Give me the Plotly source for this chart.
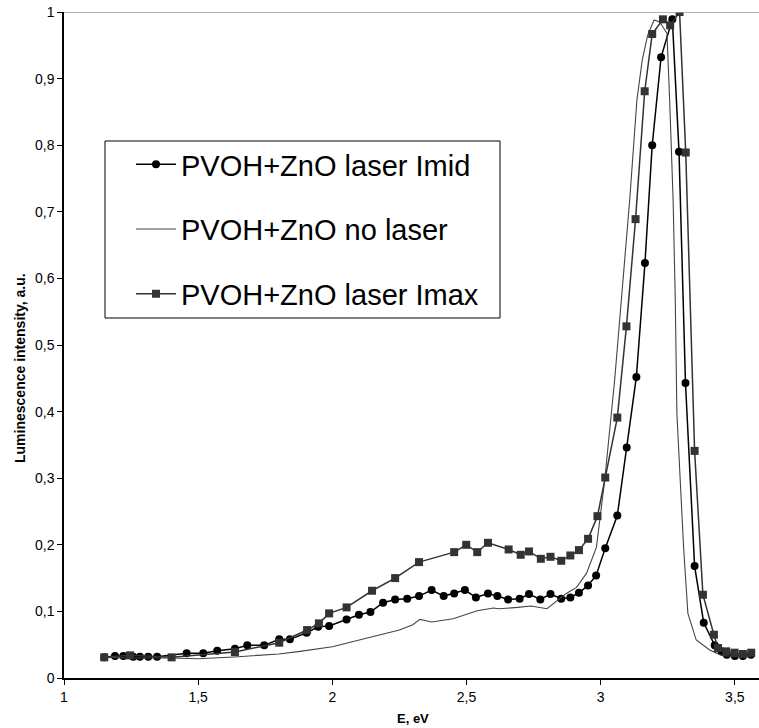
import plotly.graph_objects as go

# ---- data ----
imid_x = [1.150, 1.190, 1.221, 1.258, 1.283, 1.314, 1.347, 1.457, 1.519, 1.571, 1.637, 1.683,
          1.746, 1.802, 1.842, 1.904, 1.947, 1.988, 2.053, 2.099, 2.142, 2.189, 2.234, 2.279,
          2.323, 2.370, 2.415, 2.454, 2.494, 2.535, 2.580, 2.615, 2.655, 2.698, 2.733, 2.775,
          2.813, 2.853, 2.887, 2.919, 2.953, 2.983, 3.017, 3.062, 3.097, 3.133, 3.165, 3.192,
          3.225, 3.267, 3.292, 3.316, 3.350, 3.384, 3.425, 3.450, 3.470, 3.500, 3.530, 3.560]
imid_y = [0.031, 0.033, 0.033, 0.032, 0.032, 0.032, 0.032, 0.037, 0.037, 0.041, 0.044, 0.049,
          0.049, 0.058, 0.058, 0.068, 0.077, 0.078, 0.088, 0.095, 0.099, 0.113, 0.118, 0.119,
          0.123, 0.132, 0.123, 0.127, 0.132, 0.121, 0.127, 0.123, 0.118, 0.119, 0.126, 0.118,
          0.126, 0.119, 0.121, 0.128, 0.139, 0.154, 0.195, 0.244, 0.346, 0.452, 0.623, 0.800,
          0.932, 0.989, 0.790, 0.443, 0.168, 0.083, 0.049, 0.040, 0.035, 0.033, 0.033, 0.035]

nolaser_x = [1.150, 1.250, 1.400, 1.500, 1.650, 1.800, 1.880, 1.950, 2.000, 2.130, 2.250, 2.300,
             2.326, 2.350, 2.370, 2.450, 2.540, 2.600, 2.620, 2.690, 2.740, 2.800, 2.820, 2.850,
             2.872, 2.910, 2.947, 2.984, 3.015, 3.052, 3.083, 3.108, 3.135, 3.155, 3.175, 3.199,
             3.220, 3.247, 3.257, 3.270, 3.278, 3.284, 3.309, 3.325, 3.356, 3.406, 3.450, 3.500,
             3.560]
nolaser_y = [0.031, 0.030, 0.030, 0.029, 0.032, 0.036, 0.040, 0.044, 0.047, 0.060, 0.072, 0.080,
             0.088, 0.086, 0.084, 0.089, 0.101, 0.105, 0.104, 0.106, 0.108, 0.104, 0.110, 0.120,
             0.127, 0.136, 0.157, 0.196, 0.297, 0.447, 0.597, 0.717, 0.868, 0.928, 0.965, 0.988,
             0.985, 0.968, 0.868, 0.717, 0.567, 0.397, 0.196, 0.097, 0.057, 0.042, 0.034, 0.032,
             0.032]

imax_x = [1.150, 1.246, 1.401, 1.637, 1.802, 1.906, 1.950, 1.988, 2.053, 2.148, 2.234, 2.323,
          2.454, 2.499, 2.540, 2.580, 2.657, 2.702, 2.733, 2.777, 2.813, 2.853, 2.887, 2.919,
          2.953, 2.988, 3.017, 3.062, 3.096, 3.130, 3.164, 3.192, 3.232, 3.259, 3.294, 3.317,
          3.350, 3.381, 3.422, 3.437, 3.468, 3.499, 3.530, 3.561]
imax_y = [0.031, 0.034, 0.031, 0.039, 0.053, 0.072, 0.082, 0.097, 0.106, 0.131, 0.150, 0.174,
          0.189, 0.200, 0.189, 0.203, 0.193, 0.185, 0.190, 0.179, 0.182, 0.176, 0.184, 0.192,
          0.209, 0.243, 0.301, 0.391, 0.528, 0.689, 0.881, 0.967, 0.989, 0.980, 1.000, 0.789,
          0.341, 0.125, 0.065, 0.045, 0.040, 0.038, 0.036, 0.038]

names = ["PVOH+ZnO laser Imid", "PVOH+ZnO no laser", "PVOH+ZnO laser Imax"]
x_ticks = [1, 1.5, 2, 2.5, 3, 3.5]
y_ticks = [0, 0.1, 0.2, 0.3, 0.4, 0.5, 0.6, 0.7, 0.8, 0.9, 1]
x_title = "E, eV"
y_title = "Luminescence intensity, a.u."

W, H = 759, 728
L, R, T, B = 64, 0, 12, 50
PW, PH = W - L - R, H - T - B

def px_x(p):
    return (p - L) / PW

def px_y(p):
    return (H - B - p) / PH

fig = go.Figure()
fig.add_trace(go.Scatter(
    x=imid_x, y=imid_y, name=names[0], mode="lines+markers", legendgroup="a",
    line=dict(color="#000000", width=1.5),
    marker=dict(symbol="circle", size=8, color="#000000")))
fig.add_trace(go.Scatter(
    x=nolaser_x, y=nolaser_y, name=names[1], mode="lines", legendgroup="b",
    line=dict(color="#444444", width=1.1)))
fig.add_trace(go.Scatter(
    x=imax_x, y=imax_y, name=names[2], mode="lines+markers", legendgroup="c",
    line=dict(color="#333333", width=1.5),
    marker=dict(symbol="square", size=8, color="#333333")))

# top border line at y = 1
fig.add_shape(type="line", xref="paper", yref="y", x0=0, x1=1, y0=1, y1=1,
              line=dict(color="#999999", width=1.5))
# legend frame
fig.add_shape(type="rect", xref="paper", yref="paper",
              x0=px_x(105), x1=px_x(500), y0=px_y(318), y1=px_y(141),
              line=dict(color="#000000", width=1), fillcolor="white", layer="below")

fig.add_annotation(text="<b>" + x_title + "</b>", xref="paper", yref="paper",
                   x=px_x(413), y=px_y(719), xanchor="center", yanchor="middle",
                   showarrow=False, font=dict(size=13, color="#000"))
fig.add_annotation(text="<b>" + y_title + "</b>", xref="paper", yref="paper",
                   x=px_x(20), y=px_y(368), xanchor="center", yanchor="middle",
                   textangle=-90, showarrow=False,
                   font=dict(size=14, color="#000",
                             family="Liberation Sans Narrow, Arial Narrow, Liberation Sans, Arial"))

fig.update_layout(
    width=W, height=H,
    margin=dict(l=L, r=R, t=T, b=B, autoexpand=False),
    paper_bgcolor="white", plot_bgcolor="white",
    separators=", ",
    font=dict(family="Arial, Liberation Sans, sans-serif", color="#000000"),
    showlegend=True,
    legend=dict(x=px_x(131), y=px_y(139), xanchor="left", yanchor="top",
                bgcolor="rgba(0,0,0,0)", borderwidth=0,
                font=dict(size=29, family="Arial, Liberation Sans, sans-serif"),
                tracegroupgap=24, itemwidth=40),
    xaxis=dict(range=[1, 3.59], tickvals=x_ticks, ticks="outside", ticklen=5,
               tickcolor="#000", showline=True, linecolor="#000", linewidth=1.5,
               showgrid=False, zeroline=False, tickfont=dict(size=14),
               automargin=False, ticklabeloverflow="allow"),
    yaxis=dict(range=[0, 1], tickvals=y_ticks, ticks="outside", ticklen=5,
               tickcolor="#000", showline=True, linecolor="#000", linewidth=1.5,
               showgrid=False, zeroline=False, tickfont=dict(size=14),
               automargin=False, ticklabeloverflow="allow"),
)

# remove the default 8 px page margin so the 759x728 figure fills the window
fig.write_html("out.html",
               config={"displayModeBar": False},
               post_script="document.body.style.margin='0px';document.body.style.overflow='hidden';")
